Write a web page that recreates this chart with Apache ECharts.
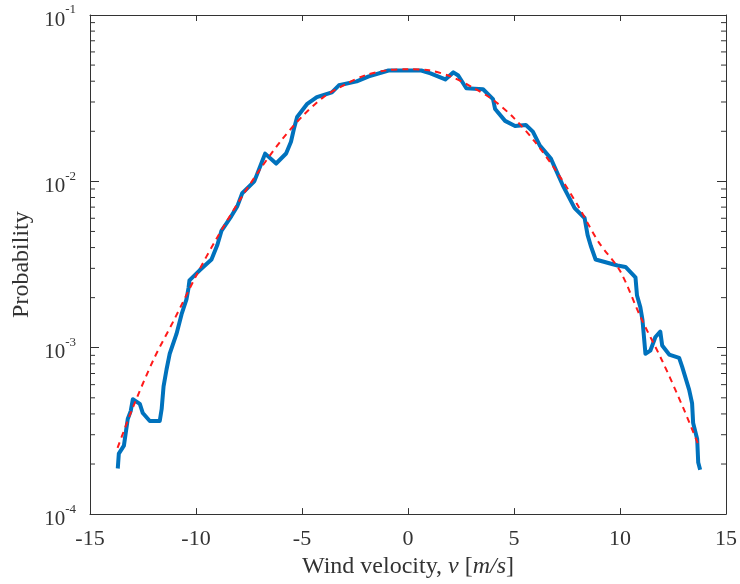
<!DOCTYPE html>
<html>
<head>
<meta charset="utf-8">
<script src="https://cdn.jsdelivr.net/npm/echarts@6/dist/echarts.min.js"></script>
<style>
  html, body { margin: 0; padding: 0; background: #fff; }
  #chart { width: 740px; height: 584px; }
</style>
</head>
<body>
<div id="chart"></div>
<script>
// measured curve (wind velocity m/s, probability)
const measuredV = [-13.69, -13.64, -13.40, -13.22, -13.08, -12.98, -12.65, -12.51, -12.18, -11.71,
  -11.62, -11.53, -11.39, -11.24, -10.92, -10.68, -10.45, -10.35, -10.31, -9.84,
  -9.27, -8.99, -8.80, -8.33, -8.05, -7.82, -7.25, -6.92, -6.74, -6.22,
  -5.75, -5.52, -5.38, -5.23, -4.77, -4.30, -3.59, -3.26, -2.42, -1.85,
  -0.92, 0.63, 1.06, 1.76, 2.14, 2.37, 2.75, 3.54, 4.01, 4.11,
  4.58, 5.05, 5.56, 5.89, 6.22, 6.74, 7.30, 7.86, 8.33, 8.47,
  8.62, 8.85, 9.88, 10.26, 10.73, 10.80, 10.96, 11.06, 11.20, 11.43,
  11.67, 11.90, 11.99, 12.32, 12.79, 12.93, 13.26, 13.40, 13.45, 13.64,
  13.69, 13.78];
const measuredP = [0.000188, 0.000231, 0.000258, 0.000373, 0.000416, 0.00049, 0.00046, 0.000405, 0.000363, 0.000363,
  0.000428, 0.000586, 0.00074, 0.00092, 0.00121, 0.00159, 0.00195, 0.0023, 0.00254, 0.00291,
  0.00339, 0.00416, 0.00504, 0.00619, 0.0071, 0.00848, 0.0100, 0.0128, 0.01468, 0.0128,
  0.0147, 0.0173, 0.0207, 0.0244, 0.0291, 0.0321, 0.0343, 0.0378, 0.0399, 0.0428,
  0.0464, 0.0464, 0.0446, 0.0410, 0.0452, 0.0433, 0.0363, 0.0358, 0.0312, 0.0272,
  0.0231, 0.0215, 0.0218, 0.0199, 0.0164, 0.0137, 0.00947, 0.0069, 0.00602, 0.00477,
  0.0041, 0.00339, 0.00312, 0.00306, 0.00265, 0.00207, 0.00175, 0.00147, 0.00092, 0.00096,
  0.00116, 0.00125, 0.00103, 0.00091, 0.00087, 0.00077, 0.00056, 0.000464, 0.000353, 0.000283,
  0.000204, 0.000185];

// fitted curve (red dashed)
const fitV = [-13.7, -13, -12, -11, -10, -9, -8, -7, -6, -5, -4, -3, -2, -1, 0,
  1, 2, 3, 4, 5, 6, 7, 8, 9, 10, 11, 12, 13, 13.7];
const fitP = [0.00025, 0.00043, 0.00085, 0.0015, 0.0027, 0.0046, 0.0075, 0.0117, 0.0175, 0.0245, 0.032, 0.038, 0.0435, 0.0465, 0.0472,
  0.0465, 0.0428, 0.037, 0.031, 0.024, 0.0172, 0.0115, 0.0072, 0.0043, 0.0029, 0.0015, 0.00083, 0.00043, 0.00026];

// minor ticks of the log axis (2..9 x decade)
const minorTicks = [];
[0.0001, 0.001, 0.01].forEach(function (d) {
  for (let k = 2; k <= 9; k++) minorTicks.push(+(d * k).toPrecision(2));
});

const axisColor = '#333333';
const font = 'Liberation Serif';

const chart = echarts.init(document.getElementById('chart'));

const xTick = { show: true, inside: true, length: 6, lineStyle: { color: axisColor, width: 1 } };
const yTick = { show: true, inside: true, length: 9, lineStyle: { color: axisColor, width: 1 } };
const axLine = { show: true, onZero: false, lineStyle: { color: axisColor, width: 1 } };

chart.setOption({
  backgroundColor: '#fff',
  animation: false,
  grid: { left: 90, right: 11, top: 15, bottom: 65 },
  xAxis: [
    {
      type: 'value',
      min: -15,
      max: 15,
      interval: 5,
      position: 'bottom',
      axisLine: axLine,
      axisTick: xTick,
      splitLine: { show: false },
      axisLabel: { color: axisColor, fontFamily: font, fontSize: 22, margin: 14 },
      name: 'Wind velocity, {i|v} [{i|m/s}]',
      nameLocation: 'middle',
      nameGap: 36,
      nameTextStyle: {
        color: axisColor, fontFamily: font, fontSize: 24,
        rich: { i: { fontStyle: 'italic', fontFamily: font, fontSize: 24, color: axisColor } }
      }
    },
    {
      type: 'value',
      min: -15,
      max: 15,
      interval: 5,
      position: 'top',
      axisLine: axLine,
      axisTick: xTick,
      splitLine: { show: false },
      axisLabel: { show: false }
    }
  ],
  yAxis: [
    {
      type: 'log',
      logBase: 10,
      min: 0.0001,
      max: 0.1,
      position: 'left',
      axisLine: axLine,
      axisTick: yTick,
      splitLine: { show: false },
      axisLabel: {
        color: axisColor,
        margin: 14,
        formatter: function (v) {
          return '{b|10}{s|' + Math.round(Math.log10(v)) + '}';
        },
        rich: {
          b: { fontFamily: font, fontSize: 21, color: axisColor, padding: [10, 0, 0, 0] },
          s: { fontFamily: font, fontSize: 13, color: axisColor, padding: [0, 0, 10, 0] }
        }
      },
      name: 'Probability',
      nameLocation: 'middle',
      nameGap: 56,
      nameTextStyle: { color: axisColor, fontFamily: font, fontSize: 24 }
    },
    {
      type: 'log',
      logBase: 10,
      min: 0.0001,
      max: 0.1,
      position: 'right',
      axisLine: axLine,
      axisTick: yTick,
      splitLine: { show: false },
      axisLabel: { show: false }
    }
  ],
  series: [
    {
      type: 'custom',
      silent: true,
      clip: false,
      xAxisIndex: 0,
      yAxisIndex: 0,
      data: minorTicks.map(function (v) { return [-15, v]; }),
      renderItem: function (params, api) {
        const v = api.value(1);
        const l = api.coord([-15, v]);
        const r = api.coord([15, v]);
        return {
          type: 'group',
          children: [
            { type: 'line', shape: { x1: l[0], y1: l[1], x2: l[0] + 5, y2: l[1] }, style: { stroke: axisColor, lineWidth: 1 } },
            { type: 'line', shape: { x1: r[0], y1: r[1], x2: r[0] - 5, y2: r[1] }, style: { stroke: axisColor, lineWidth: 1 } }
          ]
        };
      }
    },
    {
      type: 'line',
      name: 'measured',
      data: measuredV.map(function (v, i) { return [v, measuredP[i]]; }),
      showSymbol: false,
      lineStyle: { color: '#0072BD', width: 4, join: 'round' },
      z: 3
    },
    {
      type: 'line',
      name: 'fit',
      data: fitV.map(function (v, i) { return [v, fitP[i]]; }),
      showSymbol: false,
      smooth: 0.3,
      lineStyle: { color: '#FF1A1A', width: 2, type: [6, 5] },
      z: 4
    }
  ]
});
</script>
</body>
</html>
